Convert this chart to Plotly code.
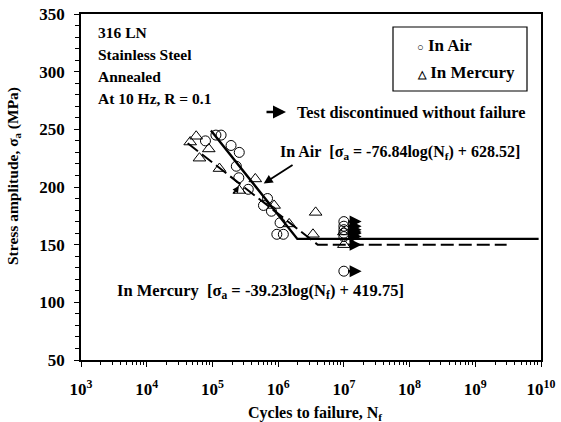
import numpy as np
import plotly.graph_objects as go

# ---------------- data ----------------
air_N = [7.83e4, 1.13e5, 1.355e5, 1.92e5, 2.56e5, 2.31e5, 2.52e5, 3.51e5,
         6.89e5, 5.98e5, 7.91e5, 1.07e6, 9.55e5, 1.20e6]
air_S = [240, 245, 245, 236, 230, 218, 208, 198, 190, 184, 179, 169, 159, 159]

hg_N = [4.59e4, 5.66e4, 8.79e4, 6.35e4, 1.28e5, 4.49e5, 2.56e5, 8.69e5,
        1.47e6, 3.72e6, 3.39e6]
hg_S = [239, 244, 233, 225, 216, 207, 197, 184, 168, 178, 159]

air_runout_N = [1e7, 1e7, 1e7, 1e7, 1e7, 1e7]
air_runout_S = [170, 166, 163, 160, 157, 127]
hg_runout_N = [1e7, 1e7]
hg_runout_S = [161, 150]

air_fit_N = [9.5e4, 1.96e6, 9.2e9]
air_fit_S = [249, 155, 155]
hg_fit_N = [4.2e4, 4.0e6, 3.0e9]
hg_fit_S = [238, 150, 150]

x_tick_vals = [1e3, 1e4, 1e5, 1e6, 1e7, 1e8, 1e9, 1e10]
x_tick_text = ["10<sup>3</sup>", "10<sup>4</sup>", "10<sup>5</sup>", "10<sup>6</sup>",
               "10<sup>7</sup>", "10<sup>8</sup>", "10<sup>9</sup>", "10<sup>10</sup>"]

FONT = "Liberation Serif"
L, R, T, B = 81, 20, 14, 62
PW, PH = 561 - L - R, 422 - T - B


def px(x):
    return (x - L) / PW


def py(y):
    return (T + PH - y) / PH


fig = go.Figure()

# fit lines
fig.add_trace(go.Scatter(x=air_fit_N, y=air_fit_S, mode="lines",
                         line=dict(color="black", width=2.4), name="Air fit"))
fig.add_trace(go.Scatter(x=hg_fit_N, y=hg_fit_S, mode="lines",
                         line=dict(color="black", width=2, dash="13px,5px"), name="Mercury fit"))

# data
fig.add_trace(go.Scatter(x=air_N + air_runout_N, y=air_S + air_runout_S, mode="markers",
                         marker=dict(symbol="circle-open", size=10, color="black",
                                     line=dict(width=1, color="black")), name="In Air"))
fig.add_trace(go.Scatter(x=hg_N + hg_runout_N, y=hg_S + hg_runout_S, mode="markers",
                         marker=dict(symbol="triangle-up-open", size=11, color="black",
                                     line=dict(width=1, color="black")), name="In Mercury"))

annotations = []


def txt(text, x, y, size=15.5):
    annotations.append(dict(text="<b>" + text + "</b>", x=px(x), y=py(y),
                            xref="paper", yref="paper", xanchor="left", yanchor="middle",
                            showarrow=False, font=dict(family=FONT, size=size, color="black")))


# top-left description
txt("316 LN", 96, 32, 15.5)
txt("Stainless Steel", 96, 54, 15.5)
txt("Annealed", 96, 76.5, 15.5)
txt("At 10 Hz, R = 0.1", 96, 98.5, 15.5)

# legend (manual)
txt("<span style='font-size:11px'>○</span> In Air", 415, 45, 17)
txt("<span style='font-size:11px'>△</span> In Mercury", 415, 72, 17)

# discontinued note
txt("Test discontinued without failure", 295, 112.5, 16.3)
annotations.append(dict(text="", x=px(286), y=py(112), xref="paper", yref="paper",
                        ax=-21, ay=0, showarrow=True, arrowhead=2, arrowsize=1, arrowwidth=2.6,
                        arrowcolor="black", standoff=0))

# equation labels
txt("In Air&nbsp;&nbsp;[σ<sub>a</sub> = -76.84log(N<sub>f</sub>) + 628.52]", 278, 152, 16)
txt("In Mercury&nbsp;&nbsp;[σ<sub>a</sub> = -39.23log(N<sub>f</sub>) + 419.75]", 115, 291, 16.5)

# axis titles as annotations (placed like the reference)
annotations.append(dict(text="<b>Stress amplitude, σ<sub>a</sub> (MPa)</b>", x=px(13), y=py(176),
                        xref="paper", yref="paper", xanchor="center", yanchor="middle",
                        textangle=-90, showarrow=False,
                        font=dict(family=FONT, size=15.5, color="black")))
annotations.append(dict(text="<b>Cycles to failure, N<sub>f</sub></b>", x=px(315), y=py(413),
                        xref="paper", yref="paper", xanchor="center", yanchor="middle",
                        showarrow=False, font=dict(family=FONT, size=16, color="black")))

# In Air arrow
annotations.append(dict(text="", x=5.780, y=203, xref="x", yref="y", axref="x", ayref="y",
                        ax=6.242, ay=220, showarrow=True, arrowhead=2, arrowsize=1,
                        arrowwidth=1.8, arrowcolor="black", standoff=0))
# In Mercury dashed arrow (head)
annotations.append(dict(text="", x=5.402, y=200.9, xref="x", yref="y", axref="x", ayref="y",
                        ax=5.31, ay=193.0, showarrow=True, arrowhead=2, arrowsize=1,
                        arrowwidth=1.3, arrowcolor="black", standoff=0))

# runout arrows
for n, s in zip(air_runout_N + hg_runout_N, air_runout_S + hg_runout_S):
    annotations.append(dict(text="", x=np.log10(n) + 0.27, y=s, xref="x", yref="y",
                            ax=-15, ay=0, showarrow=True, arrowhead=2, arrowsize=1,
                            arrowwidth=2.4, arrowcolor="black", standoff=0))

shapes = [
    # legend box
    dict(type="rect", xref="paper", yref="paper", x0=px(393), x1=px(527),
         y0=py(91), y1=py(27), line=dict(color="black", width=1.2)),
    # dashed mercury pointer
    dict(type="line", xref="x", yref="y", x0=4.56, y0=128, x1=5.33, y1=194.8,
         line=dict(color="black", width=1.2, dash="6px,5px")),
]

minor_x = [k * 10 ** d for d in range(3, 10) for k in range(2, 10)]

fig.update_layout(
    width=561, height=422,
    margin=dict(l=L, r=R, t=T, b=B, autoexpand=False),
    plot_bgcolor="white", paper_bgcolor="white",
    showlegend=False,
    font=dict(family=FONT, color="black", size=16),
    annotations=annotations, shapes=shapes,
    xaxis=dict(type="log", range=[3, 10], showline=True, linecolor="black", linewidth=1.5,
               mirror=True, ticks="outside", ticklen=5, tickwidth=1.2, tickcolor="black",
               tickvals=x_tick_vals, ticktext=x_tick_text, showgrid=False, zeroline=False,
               ticklabelstandoff=8, automargin=False,
               tickfont=dict(family=FONT, size=17, color="black", weight="bold"),
               minor=dict(ticks="outside", ticklen=3, tickwidth=1, tickcolor="black",
                          tickvals=minor_x, showgrid=False)),
    yaxis=dict(range=[50, 350], tick0=50, dtick=50, showline=True, linecolor="black",
               linewidth=1.5, mirror=True, ticks="outside", ticklen=5, tickwidth=1.2,
               tickcolor="black", showgrid=False, zeroline=False,
               ticklabelstandoff=6, automargin=False,
               tickfont=dict(family=FONT, size=17, color="black", weight="bold"),
               minor=dict(ticks="outside", ticklen=4, tickwidth=1, tickcolor="black",
                          dtick=10, showgrid=False)),
)

fig.write_html("out.html", config={"displayModeBar": False},
               post_script="document.body.style.margin='0';")
